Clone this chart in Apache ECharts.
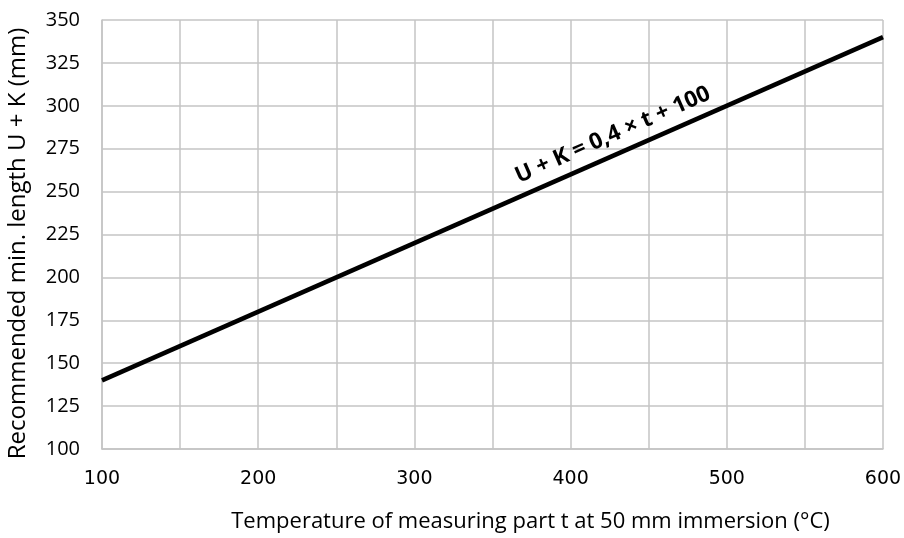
<!DOCTYPE html>
<html>
<head>
<meta charset="utf-8">
<script src="https://cdn.jsdelivr.net/npm/echarts@6/dist/echarts.min.js"></script>
<style>
  html, body { margin: 0; padding: 0; background: #fff; }
  #chart { width: 904px; height: 538px; }
</style>
</head>
<body>
<div id="chart"></div>
<script>
// U + K = 0,4 x t + 100
const temperatures = [100, 600];
const lengths = [140, 340];
const formulaLabel = 'U + K = 0,4 × t + 100';
const formulaAt = [427, 283];

const chart = echarts.init(document.getElementById('chart'), null, { renderer: 'canvas' });
const gridColor = '#c4c4c4';

chart.setOption({
  animation: false,
  grid: { left: 102, right: 21, top: 20, bottom: 89, containLabel: false, outerBoundsMode: 'none' },
  xAxis: {
    type: 'value',
    min: 100,
    max: 600,
    interval: 50,
    name: 'Temperature of measuring part t at 50 mm immersion (°C)',
    nameLocation: 'middle',
    nameGap: 62,
    nameTextStyle: { fontFamily: 'Open Sans', fontSize: 22, color: '#000', padding: [0, 0, 0, 76] },
    axisLine: { show: true, lineStyle: { color: gridColor, width: 1.5 } },
    axisTick: { show: false },
    axisLabel: {
      margin: 21,
      fontFamily: 'DejaVu Sans',
      fontSize: 19,
      color: '#000',
      formatter: v => (v % 100 === 0 ? String(v) : '')
    },
    splitLine: { show: true, lineStyle: { color: gridColor, width: 1.5 } }
  },
  yAxis: {
    type: 'value',
    min: 100,
    max: 350,
    interval: 25,
    name: 'Recommended min. length U + K (mm)',
    nameLocation: 'middle',
    nameGap: 72,
    nameTextStyle: { fontFamily: 'Open Sans', fontSize: 24, color: '#000', padding: [0, 18, 0, 0] },
    axisLine: { show: true, lineStyle: { color: gridColor, width: 1.5 } },
    axisTick: { show: false },
    axisLabel: { margin: 22, fontFamily: 'Open Sans', fontSize: 20, color: '#000' },
    splitLine: { show: true, lineStyle: { color: gridColor, width: 1.5 } }
  },
  series: [{
    type: 'line',
    data: temperatures.map((t, i) => [t, lengths[i]]),
    symbol: 'none',
    lineStyle: { color: '#000', width: 4.5 },
    markPoint: {
      symbol: 'rect',
      symbolSize: 1,
      itemStyle: { color: 'rgba(0,0,0,0)' },
      data: [{ coord: formulaAt, value: formulaLabel }],
      label: {
        show: true,
        position: 'inside',
        formatter: formulaLabel,
        rotate: 23.7,
        fontFamily: 'Open Sans',
        fontWeight: 'bold',
        fontSize: 22.5,
        color: '#000'
      }
    }
  }]
});
</script>
</body>
</html>
